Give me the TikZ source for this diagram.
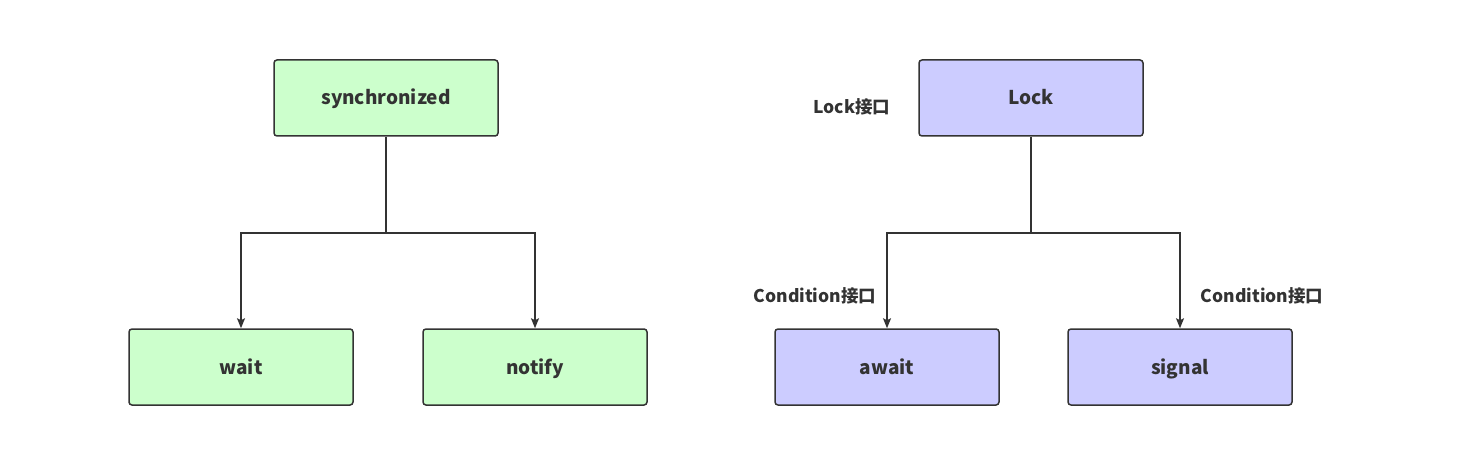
\documentclass[tikz,border=0pt]{standalone}
\usepackage{fontspec}
\setmainfont{Noto Sans CJK SC}
\usetikzlibrary{arrows.meta}

\begin{document}
\begin{tikzpicture}[x=1pt,y=-1pt,
	box/.style={draw=black!80, line width=1.5pt, rounded corners=3pt,
		minimum width=224pt, minimum height=76pt, text height=14pt, text depth=0pt,
		font=\fontsize{19}{21}\selectfont\bfseries, text=black!80},
	syncbox/.style={box, fill={rgb,255:red,204;green,255;blue,204}},
	lockbox/.style={box, fill={rgb,255:red,204;green,204;blue,255}},
	tag/.style={font=\fontsize{17.5}{19}\selectfont\bfseries, text=black!80},
	link/.style={draw=black!80, line width=1.5pt},
	arr/.style={link, -{Stealth[length=10pt,width=8pt,inset=2pt]}}]

	\useasboundingbox (0,0) rectangle (1480,465);

	% synchronized
	\node[syncbox] (sync) at (386,98) {synchronized};
	\node[syncbox] (wait) at (241,367) {wait};
	\node[syncbox] (notify) at (535,367) {notify};

	\coordinate (sj) at (386,233);
	\draw[link] (sync.south) -- (sj);
	\draw[arr] (sj) -| (wait.north);
	\draw[arr] (sj) -| (notify.north);

	% Lock
	\node[lockbox] (lock) at (1031,98) {Lock};
	\node[lockbox] (await) at (887,367) {await};
	\node[lockbox] (signal) at (1180,367) {signal};

	\coordinate (lj) at (1031,233);
	\draw[link] (lock.south) -- (lj);
	\draw[arr] (lj) -| (await.north);
	\draw[arr] (lj) -| (signal.north);

	\node[tag] (locktag) at (852,107) {Lock接口};
	\node[tag] (awaittag) at (815,296) {Condition接口};
	\node[tag] (signaltag) at (1262,296) {Condition接口};

\end{tikzpicture}
\end{document}
